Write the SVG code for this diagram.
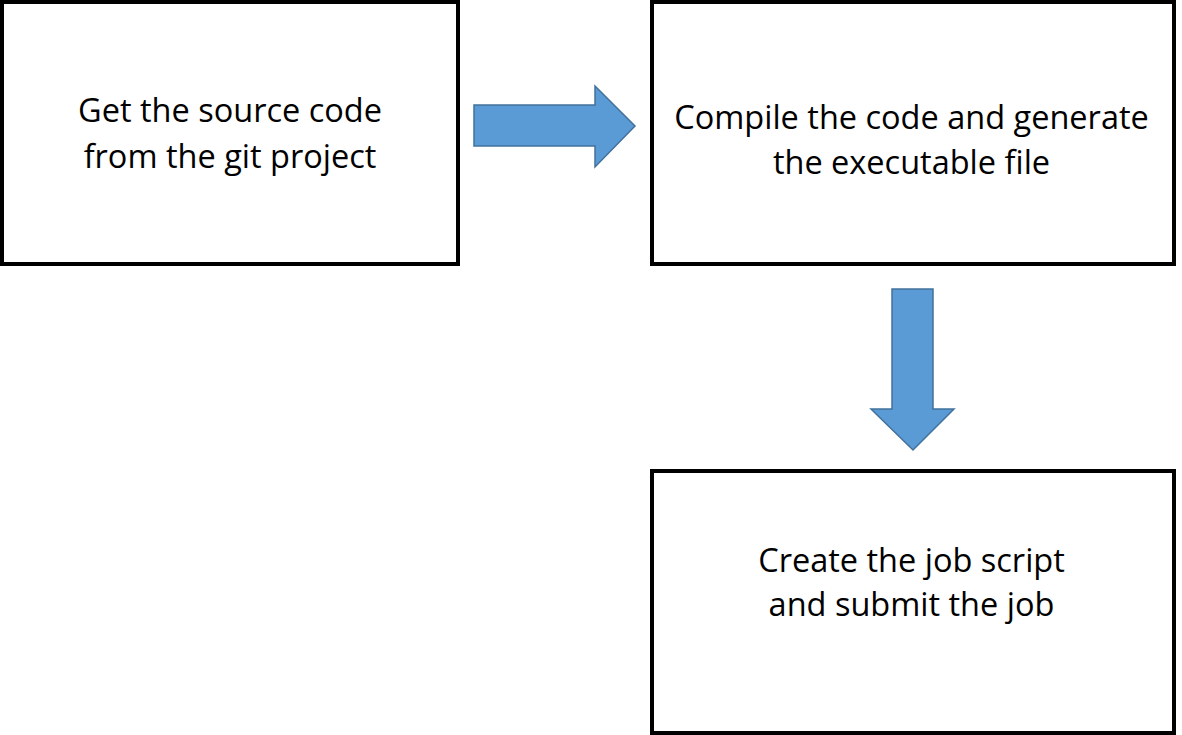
<svg xmlns="http://www.w3.org/2000/svg" width="1182" height="735" viewBox="0 0 1182 735">
<style>
.box{fill:#ffffff;stroke:#000000;stroke-width:4}
.lbl{font-family:"Open Sans","Noto Sans",sans-serif;font-size:32.5px;fill:#000000;text-anchor:middle}
.arr{fill:#5B9BD5;stroke:#41719C;stroke-width:1.5;stroke-linejoin:miter}
</style>
<rect width="1182" height="735" fill="#ffffff"/>
<g id="node-source">
<rect class="box" x="2" y="2" width="456" height="262"/>
<text class="lbl" x="230" y="122">Get the source code</text>
<text class="lbl" x="230" y="168">from the git project</text>
</g>
<g id="node-compile">
<rect class="box" x="652" y="2" width="522" height="262"/>
<text class="lbl" x="911.5" y="129">Compile the code and generate</text>
<text class="lbl" x="911.5" y="174">the executable file</text>
</g>
<g id="node-job">
<rect class="box" x="652" y="471" width="522" height="262"/>
<text class="lbl" x="911.5" y="572">Create the job script</text>
<text class="lbl" x="911.5" y="616">and submit the job</text>
</g>
<g id="connectors">
<polygon class="arr" points="474,105 595,105 595,86 635,126 595,167 595,146 474,146"/>
<polygon class="arr" points="892,289 933,289 933,409 954,409 913,450 871,409 892,409"/>
</g>
</svg>
